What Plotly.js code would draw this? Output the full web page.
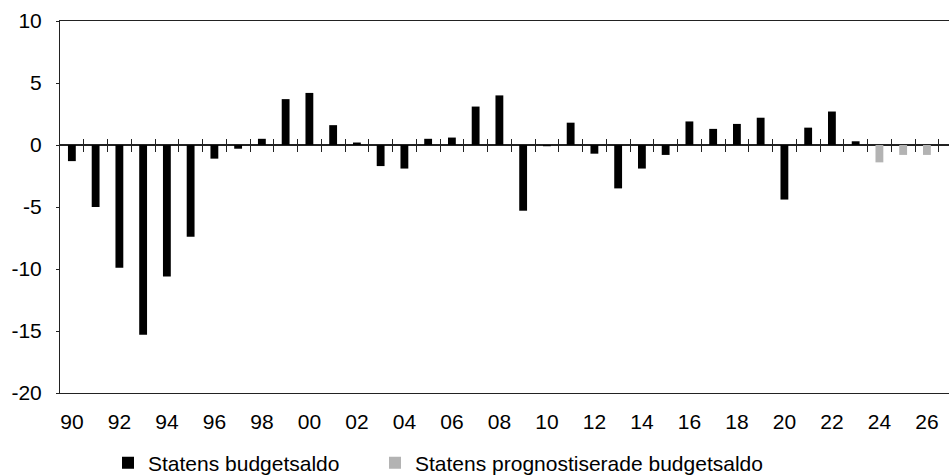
<!DOCTYPE html>
<html>
<head>
<meta charset="utf-8">
<script src="https://cdn.plot.ly/plotly-3.0.1.min.js"></script>
<style>html,body{margin:0;padding:0;background:#fff;}#chart{width:949px;height:475px;}</style>
</head>
<body>
<div id="chart"></div>
<script>
// Data
const actualYears = [1990,1991,1992,1993,1994,1995,1996,1997,1998,1999,2000,2001,2002,2003,2004,2005,2006,2007,2008,2009,2010,2011,2012,2013,2014,2015,2016,2017,2018,2019,2020,2021,2022,2023];
const actualValues = [-1.3,-5.0,-9.9,-15.3,-10.6,-7.4,-1.1,-0.3,0.5,3.7,4.2,1.6,0.2,-1.7,-1.9,0.5,0.6,3.1,4.0,-5.3,-0.1,1.8,-0.7,-3.5,-1.9,-0.8,1.9,1.3,1.7,2.2,-4.4,1.4,2.7,0.3];
const forecastYears = [2024,2025,2026];
const forecastValues = [-1.4,-0.8,-0.8];
const tickYears = [1990,1992,1994,1996,1998,2000,2002,2004,2006,2008,2010,2012,2014,2016,2018,2020,2022,2024,2026];
const tickLabels = ["90","92","94","96","98","00","02","04","06","08","10","12","14","16","18","20","22","24","26"];
const yTickValues = [-20,-15,-10,-5,0,5,10];
const yTickLabels = ["-20","-15","-10","-5","0","5","10"];
const seriesNames = ["Statens budgetsaldo","Statens prognostiserade budgetsaldo"];

const allYears = actualYears.concat(forecastYears);
const boundaries = allYears.map(y => y + 0.5);
const xRange = [allYears[0] - 0.5, allYears[allYears.length - 1] + 0.93];

const FONT = "Liberation Sans, Arial, sans-serif";
const BAR_W = 0.33;

const traces = [
  {type:'bar', x: actualYears, y: actualValues, name: seriesNames[0], width: BAR_W,
   marker:{color:'#000000', line:{width:0}}, legend:'legend'},
  {type:'bar', x: forecastYears, y: forecastValues, name: seriesNames[1], width: BAR_W,
   marker:{color:'#b3b3b3', line:{width:0}}, legend:'legend2'},
  {type:'scatter', x:[null], y:[null], xaxis:'x2', showlegend:false, hoverinfo:'skip'},
  {type:'scatter', x:[null], y:[null], xaxis:'x3', showlegend:false, hoverinfo:'skip'}
];

const zeroAxis = {
  overlaying:'x', anchor:'free', position: 2/3, side:'bottom',
  range: xRange, type:'linear', tickmode:'array', tickvals: boundaries,
  showticklabels:false, ticklen:6, tickwidth:1, tickcolor:'#222',
  showgrid:false, zeroline:false, showline:false
};

const legendBase = {
  orientation:'h', xref:'container', yref:'container', xanchor:'left', yanchor:'middle', y:0.025,
  font:{family:FONT, size:21, color:'#000'}, bgcolor:'rgba(0,0,0,0)', borderwidth:0
};

const layout = {
  width: 949, height: 475,
  margin: {l:60, r:0, t:21, b:81.5, pad:0, autoexpand:false},
  paper_bgcolor:'#ffffff', plot_bgcolor:'#ffffff',
  font: {family: FONT, size: 21, color:'#000'},
  barmode:'overlay',
  showlegend:true,
  legend: Object.assign({}, legendBase, {x: 108/949}),
  legend2: Object.assign({}, legendBase, {x: 375/949}),
  xaxis: {
    type:'linear', range: xRange, tickmode:'array', tickvals: tickYears, ticktext: tickLabels,
    ticks:'', showgrid:false, zeroline:false,
    showline:true, linecolor:'#222', linewidth:1, mirror:true,
    tickfont:{family:FONT, size:21, color:'#000'}, ticklabelstandoff: 10
  },
  xaxis2: Object.assign({}, zeroAxis, {ticks:'outside'}),
  xaxis3: Object.assign({}, zeroAxis, {ticks:'inside'}),
  yaxis: {
    range:[-20,10], tickmode:'array', tickvals: yTickValues, ticktext: yTickLabels,
    ticks:'outside', ticklen:3, tickcolor:'#222', tickwidth:1,
    showgrid:false, zeroline:true, zerolinecolor:'#222', zerolinewidth:1.3,
    showline:true, linecolor:'#222', linewidth:1, mirror:false,
    tickfont:{family:FONT, size:21, color:'#000'}, ticklabelstandoff: 10
  }
};

Plotly.newPlot('chart', traces, layout, {displayModeBar:false, staticPlot:true});
</script>
</body>
</html>
